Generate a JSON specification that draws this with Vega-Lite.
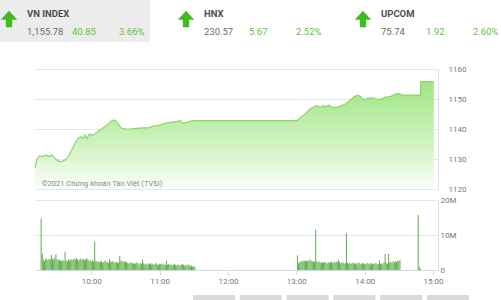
{
  "$schema": "https://vega.github.io/schema/vega-lite/v6.json",
  "padding": 0,
  "background": "white",
  "bounds": "flush",
  "spacing": 11,
  "config": {"view": {"stroke": null}, "font": "Roboto", "axis": {"labelFont": "Roboto"}},
  "datasets": {
    "tickers": [
      {"name": "VN INDEX", "value": 1155.78, "change": 40.85, "pct": 0.0366},
      {"name": "HNX", "value": 230.57, "change": 5.67, "pct": 0.0252},
      {"name": "UPCOM", "value": 75.74, "change": 1.92, "pct": 0.026}
    ],
    "index": [
      {"m": 555, "v": 1127.1}, {"m": 556.4, "v": 1129.7}, {"m": 558.7, "v": 1131}, {"m": 561.6, "v": 1130.8},
      {"m": 564.4, "v": 1131.3}, {"m": 567.3, "v": 1130.8}, {"m": 569.3, "v": 1131.3}, {"m": 572.1, "v": 1130.2},
      {"m": 575, "v": 1129.3}, {"m": 577.9, "v": 1129.1}, {"m": 580.7, "v": 1129.7}, {"m": 583.6, "v": 1130.8},
      {"m": 586.4, "v": 1133}, {"m": 589.3, "v": 1135.2}, {"m": 592.1, "v": 1136.9}, {"m": 594.1, "v": 1137.4},
      {"m": 595.9, "v": 1136.9}, {"m": 597.9, "v": 1138}, {"m": 599.3, "v": 1136.7}, {"m": 601.6, "v": 1138.3},
      {"m": 604.4, "v": 1137.8}, {"m": 607.9, "v": 1138.9}, {"m": 612.1, "v": 1140}, {"m": 616.4, "v": 1141.3},
      {"m": 620.7, "v": 1142.7}, {"m": 623, "v": 1143}, {"m": 625.6, "v": 1142.1}, {"m": 628.4, "v": 1140.4},
      {"m": 632.1, "v": 1140}, {"m": 636.4, "v": 1140}, {"m": 642.1, "v": 1140.2}, {"m": 647.9, "v": 1140.4},
      {"m": 652.1, "v": 1140.4}, {"m": 656.4, "v": 1141}, {"m": 662.1, "v": 1141.3}, {"m": 666.4, "v": 1141.9},
      {"m": 670.7, "v": 1142.2}, {"m": 675, "v": 1142.4}, {"m": 679.3, "v": 1142.8}, {"m": 681.6, "v": 1141.9},
      {"m": 685, "v": 1142.2}, {"m": 689.3, "v": 1142.7}, {"m": 693.6, "v": 1142.8}, {"m": 779.3, "v": 1142.8},
      {"m": 782.1, "v": 1143.8}, {"m": 786.4, "v": 1145}, {"m": 790.1, "v": 1146.6}, {"m": 793.6, "v": 1147.4},
      {"m": 796.4, "v": 1147.8}, {"m": 799.3, "v": 1147.2}, {"m": 801.6, "v": 1147.8}, {"m": 804.4, "v": 1147.4},
      {"m": 806.4, "v": 1148}, {"m": 809.3, "v": 1147.2}, {"m": 813.6, "v": 1147.3}, {"m": 817.9, "v": 1147.8},
      {"m": 821.6, "v": 1148.6}, {"m": 825, "v": 1149.7}, {"m": 828.4, "v": 1150.8}, {"m": 831.3, "v": 1151.3},
      {"m": 833.6, "v": 1150.8}, {"m": 836.4, "v": 1149.7}, {"m": 839.9, "v": 1150.2}, {"m": 843.6, "v": 1150.4},
      {"m": 847.3, "v": 1150}, {"m": 850.7, "v": 1149.9}, {"m": 855, "v": 1150.6}, {"m": 859.3, "v": 1150.8},
      {"m": 863.6, "v": 1151.6}, {"m": 866.4, "v": 1151.8}, {"m": 869.3, "v": 1151.3}, {"m": 876.4, "v": 1151.3},
      {"m": 885, "v": 1151.3}, {"m": 885.3, "v": 1155.78}, {"m": 896.4, "v": 1155.78}
    ],
    "volume": [
      {"m": 556, "v": 14.8}, {"m": 557, "v": 4.7}, {"m": 558, "v": 3.0}, {"m": 559, "v": 2.6}, {"m": 560, "v": 3.3},
      {"m": 561, "v": 3.1}, {"m": 562, "v": 2.8}, {"m": 563, "v": 3.2}, {"m": 564, "v": 3.0}, {"m": 565, "v": 4.3},
      {"m": 566, "v": 3.2}, {"m": 567, "v": 2.9}, {"m": 568, "v": 3.6}, {"m": 569, "v": 4.5}, {"m": 570, "v": 3.1},
      {"m": 571, "v": 2.8}, {"m": 572, "v": 3.0}, {"m": 573, "v": 2.7}, {"m": 574, "v": 2.5}, {"m": 575, "v": 2.9},
      {"m": 576, "v": 2.6}, {"m": 577, "v": 5.2}, {"m": 578, "v": 2.8}, {"m": 579, "v": 2.4}, {"m": 580, "v": 3.0},
      {"m": 581, "v": 2.7}, {"m": 582, "v": 2.9}, {"m": 583, "v": 3.1}, {"m": 584, "v": 2.8}, {"m": 585, "v": 3.3},
      {"m": 586, "v": 2.9}, {"m": 587, "v": 3.4}, {"m": 588, "v": 3.0}, {"m": 589, "v": 2.7}, {"m": 590, "v": 3.1},
      {"m": 591, "v": 3.3}, {"m": 592, "v": 2.9}, {"m": 593, "v": 3.2}, {"m": 594, "v": 2.8}, {"m": 595, "v": 3.0},
      {"m": 596, "v": 3.4}, {"m": 597, "v": 3.1}, {"m": 598, "v": 2.6}, {"m": 599, "v": 2.9}, {"m": 600, "v": 2.5},
      {"m": 601, "v": 2.8}, {"m": 602, "v": 2.4}, {"m": 603, "v": 8.1}, {"m": 604, "v": 2.6}, {"m": 605, "v": 2.3},
      {"m": 606, "v": 2.5}, {"m": 607, "v": 2.2}, {"m": 608, "v": 2.4}, {"m": 609, "v": 2.6}, {"m": 610, "v": 2.1},
      {"m": 611, "v": 2.3}, {"m": 612, "v": 2.7}, {"m": 613, "v": 2.2}, {"m": 614, "v": 2.4}, {"m": 615, "v": 2.0},
      {"m": 616, "v": 3.1}, {"m": 617, "v": 2.5}, {"m": 618, "v": 2.2}, {"m": 619, "v": 2.6}, {"m": 620, "v": 2.3},
      {"m": 621, "v": 2.1}, {"m": 622, "v": 2.4}, {"m": 623, "v": 2.0}, {"m": 624, "v": 2.2}, {"m": 625, "v": 4.0},
      {"m": 626, "v": 2.8}, {"m": 627, "v": 2.5}, {"m": 628, "v": 2.3}, {"m": 629, "v": 2.6}, {"m": 630, "v": 2.2},
      {"m": 631, "v": 2.4}, {"m": 632, "v": 2.0}, {"m": 633, "v": 1.8}, {"m": 634, "v": 2.2}, {"m": 635, "v": 1.9},
      {"m": 636, "v": 2.1}, {"m": 637, "v": 1.7}, {"m": 638, "v": 2.0}, {"m": 639, "v": 1.8}, {"m": 640, "v": 2.2},
      {"m": 641, "v": 1.9}, {"m": 642, "v": 1.6}, {"m": 643, "v": 2.0}, {"m": 644, "v": 1.8}, {"m": 645, "v": 3.0},
      {"m": 646, "v": 1.9}, {"m": 647, "v": 1.6}, {"m": 648, "v": 1.8}, {"m": 649, "v": 1.5}, {"m": 650, "v": 1.9},
      {"m": 651, "v": 1.7}, {"m": 652, "v": 2.0}, {"m": 653, "v": 1.6}, {"m": 654, "v": 1.8}, {"m": 655, "v": 1.5},
      {"m": 656, "v": 1.7}, {"m": 657, "v": 2.0}, {"m": 658, "v": 1.6}, {"m": 659, "v": 1.4}, {"m": 660, "v": 1.8},
      {"m": 661, "v": 1.7}, {"m": 662, "v": 1.5}, {"m": 663, "v": 1.9}, {"m": 664, "v": 1.6}, {"m": 665, "v": 1.4},
      {"m": 666, "v": 2.7}, {"m": 667, "v": 1.5}, {"m": 668, "v": 1.7}, {"m": 669, "v": 1.4}, {"m": 670, "v": 1.6},
      {"m": 671, "v": 1.3}, {"m": 672, "v": 1.5}, {"m": 673, "v": 1.7}, {"m": 674, "v": 1.4}, {"m": 675, "v": 1.2},
      {"m": 676, "v": 1.6}, {"m": 677, "v": 1.4}, {"m": 678, "v": 1.3}, {"m": 679, "v": 1.5}, {"m": 680, "v": 1.7},
      {"m": 681, "v": 1.4}, {"m": 682, "v": 1.2}, {"m": 683, "v": 1.5}, {"m": 684, "v": 1.3}, {"m": 685, "v": 1.6},
      {"m": 686, "v": 1.4}, {"m": 687, "v": 1.1}, {"m": 688, "v": 1.3}, {"m": 689, "v": 1.0}, {"m": 690, "v": 1.1},
      {"m": 691, "v": 0.8},
      {"m": 781, "v": 4.2}, {"m": 782, "v": 1.9}, {"m": 783, "v": 2.2}, {"m": 784, "v": 2.4}, {"m": 785, "v": 2.5},
      {"m": 786, "v": 2.6}, {"m": 787, "v": 2.4}, {"m": 788, "v": 2.8}, {"m": 789, "v": 2.5}, {"m": 790, "v": 2.7},
      {"m": 791, "v": 2.6}, {"m": 792, "v": 3.0}, {"m": 793, "v": 2.7}, {"m": 794, "v": 2.4}, {"m": 795, "v": 2.6},
      {"m": 796, "v": 2.3}, {"m": 797, "v": 11.6}, {"m": 798, "v": 2.5}, {"m": 799, "v": 2.2}, {"m": 800, "v": 2.4},
      {"m": 801, "v": 2.1}, {"m": 802, "v": 2.3}, {"m": 803, "v": 2.0}, {"m": 804, "v": 2.2}, {"m": 805, "v": 2.4},
      {"m": 806, "v": 2.1}, {"m": 807, "v": 1.9}, {"m": 808, "v": 2.3}, {"m": 809, "v": 2.0}, {"m": 810, "v": 2.2},
      {"m": 811, "v": 2.4}, {"m": 812, "v": 2.0}, {"m": 813, "v": 2.3}, {"m": 814, "v": 2.1}, {"m": 815, "v": 2.5},
      {"m": 816, "v": 2.2}, {"m": 817, "v": 2.9}, {"m": 818, "v": 2.3}, {"m": 819, "v": 1.9}, {"m": 820, "v": 2.1},
      {"m": 821, "v": 2.3}, {"m": 822, "v": 1.8}, {"m": 823, "v": 2.0}, {"m": 824, "v": 10.5}, {"m": 825, "v": 2.1},
      {"m": 826, "v": 1.8}, {"m": 827, "v": 2.0}, {"m": 828, "v": 1.7}, {"m": 829, "v": 1.9}, {"m": 830, "v": 2.1},
      {"m": 831, "v": 1.8}, {"m": 832, "v": 2.0}, {"m": 833, "v": 1.6}, {"m": 834, "v": 1.9}, {"m": 835, "v": 2.2},
      {"m": 836, "v": 1.8}, {"m": 837, "v": 1.7}, {"m": 838, "v": 2.0}, {"m": 839, "v": 1.9}, {"m": 840, "v": 1.6},
      {"m": 841, "v": 1.8}, {"m": 842, "v": 2.1}, {"m": 843, "v": 1.7}, {"m": 844, "v": 1.9}, {"m": 845, "v": 1.6},
      {"m": 846, "v": 2.0}, {"m": 847, "v": 1.8}, {"m": 848, "v": 1.7}, {"m": 849, "v": 2.0}, {"m": 850, "v": 1.9},
      {"m": 851, "v": 1.6}, {"m": 852, "v": 1.8}, {"m": 853, "v": 2.7}, {"m": 854, "v": 1.7}, {"m": 855, "v": 1.9},
      {"m": 856, "v": 1.6}, {"m": 857, "v": 2.2}, {"m": 858, "v": 4.6}, {"m": 859, "v": 2.0}, {"m": 860, "v": 1.8},
      {"m": 861, "v": 4.6}, {"m": 862, "v": 2.1}, {"m": 863, "v": 2.4}, {"m": 864, "v": 2.0}, {"m": 865, "v": 2.6},
      {"m": 866, "v": 2.2}, {"m": 867, "v": 2.5}, {"m": 868, "v": 2.3}, {"m": 869, "v": 2.7}, {"m": 870, "v": 2.6},
      {"m": 871, "v": 2.8},
      {"m": 887, "v": 15.7}, {"m": 888, "v": 0.9}, {"m": 889, "v": 0.3}
    ],
    "buttons": [{"b": "1"}, {"b": "2"}, {"b": "3"}, {"b": "4"}, {"b": "5"}, {"b": "6"}]
  },
  "vconcat": [
    {
      "width": 403,
      "height": 58,
      "data": {"name": "tickers"},
      "layer": [
        {
          "transform": [{"filter": "datum.name === 'VN INDEX'"}],
          "mark": {"type": "bar", "color": "#ececec", "width": 150, "xOffset": -13.5, "y": 0, "y2": 42},
          "encoding": {
            "x": {"field": "name", "type": "nominal", "sort": null, "axis": null,
                  "scale": {"domain": ["VN INDEX", "HNX", "UPCOM"], "range": [-35, 496], "paddingInner": 0, "paddingOuter": 0}}
          }
        },
        {
          "mark": {"type": "point", "shape": "M0,-1L1,0.1L0.38,0.1L0.38,1L-0.38,1L-0.38,0.1L-1,0.1Z", "filled": true, "opacity": 1, "color": "#3fba1f", "size": 270, "xOffset": 9, "y": 19},
          "encoding": {"x": {"field": "name", "type": "nominal", "bandPosition": 0}}
        },
        {
          "mark": {"type": "text", "align": "left", "baseline": "alphabetic", "dx": 27, "y": 17, "fontWeight": "bold", "fontSize": 9.5, "color": "#4d4d4d"},
          "encoding": {"x": {"field": "name", "type": "nominal", "bandPosition": 0}, "text": {"field": "name"}}
        },
        {
          "mark": {"type": "text", "align": "left", "baseline": "alphabetic", "dx": 27, "y": 35, "fontSize": 9.5, "color": "#6b6b6b"},
          "encoding": {"x": {"field": "name", "type": "nominal", "bandPosition": 0}, "text": {"field": "value", "format": ",.2f"}}
        },
        {
          "mark": {"type": "text", "align": "left", "baseline": "alphabetic", "dx": 72, "y": 35, "fontSize": 9.5, "color": "#5cc43a"},
          "encoding": {"x": {"field": "name", "type": "nominal", "bandPosition": 0}, "text": {"field": "change", "format": ".2f"}}
        },
        {
          "mark": {"type": "text", "align": "left", "baseline": "alphabetic", "dx": 119, "y": 35, "fontSize": 9.5, "color": "#5cc43a"},
          "encoding": {"x": {"field": "name", "type": "nominal", "bandPosition": 0}, "text": {"field": "pct", "format": ".2%"}}
        }
      ]
    },
    {
      "width": 403,
      "height": 120,
      "layer": [
        {
          "data": {"name": "index"},
          "mark": {
            "type": "area",
            "opacity": 0.88,
            "line": {"color": "#86d965", "strokeWidth": 1.2},
            "color": {"gradient": "linear", "x1": 0, "y1": 0, "x2": 0, "y2": 1,
                      "stops": [{"offset": 0, "color": "#92e271"}, {"offset": 0.55, "color": "#c6f0b4"}, {"offset": 1, "color": "#fbfef9"}]}
          },
          "encoding": {
            "x": {"field": "m", "type": "quantitative", "axis": null,
                  "scale": {"domain": [555, 900], "nice": false, "zero": false}},
            "y": {"field": "v", "type": "quantitative",
                  "scale": {"domain": [1120, 1160], "nice": false, "zero": false},
                  "axis": {"orient": "right", "values": [1120, 1130, 1140, 1150, 1160], "tickCount": 5, "format": "d", "title": null,
                           "grid": true, "gridColor": "#e3e7ee", "domain": true, "domainColor": "#dce1ea", "labelOverlap": false,
                           "ticks": false, "labelPadding": 10, "labelFontSize": 8, "labelColor": "#777777", "labelFlush": false}},
            "y2": {"datum": 1120}
          }
        },
        {
          "data": {"values": [{}]},
          "mark": {"type": "text", "text": "©2021 Chứng khoán Tân Việt (TVSI)", "align": "left", "baseline": "alphabetic", "fontSize": 7.5, "color": "#8a8a8a"},
          "encoding": {
            "x": {"datum": 560.7, "type": "quantitative", "axis": null},
            "y": {"datum": 1121.1, "type": "quantitative",
                  "axis": {"orient": "right", "values": [1120, 1130, 1140, 1150, 1160], "tickCount": 5, "format": "d", "title": null,
                           "grid": true, "gridColor": "#e3e7ee", "domain": true, "domainColor": "#dce1ea", "labelOverlap": false,
                           "ticks": false, "labelPadding": 10, "labelFontSize": 8, "labelColor": "#777777", "labelFlush": false}}
          }
        }
      ]
    },
    {
      "width": 403,
      "height": 70,
      "data": {"name": "volume"},
      "mark": {"type": "bar", "width": 1, "color": "#5fae4b"},
      "encoding": {
        "x": {"field": "m", "type": "quantitative",
              "scale": {"domain": [555, 900], "nice": false, "zero": false},
              "axis": {"values": [600, 660, 720, 780, 840, 900], "labelExpr": "floor(datum.value / 60) + ':00'",
                       "title": null, "grid": false, "domainColor": "#d5dbe6", "tickColor": "#d5dbe6", "tickSize": 5,
                       "labelFontSize": 8, "labelColor": "#777777", "labelPadding": 2, "labelFlush": false}},
        "y": {"field": "v", "type": "quantitative",
              "scale": {"domain": [0, 20], "nice": false},
              "axis": {"orient": "right", "values": [0, 10, 20], "labelExpr": "datum.value == 0 ? '0' : datum.value + 'M'",
                       "title": null, "grid": true, "gridColor": "#e3e7ee", "domain": true, "domainColor": "#dce1ea", "labelOverlap": false,
                       "ticks": false, "labelPadding": 2, "labelFontSize": 8, "labelColor": "#777777", "labelFlush": false}}
      }
    },
    {
      "width": 403,
      "height": 19,
      "data": {"name": "buttons"},
      "mark": {"type": "bar", "color": "#dadada", "y": 14, "y2": 19},
      "encoding": {
        "x": {"field": "b", "type": "nominal", "axis": null,
              "scale": {"range": [158, 434], "paddingInner": 0.1, "paddingOuter": 0}}
      }
    }
  ]
}
